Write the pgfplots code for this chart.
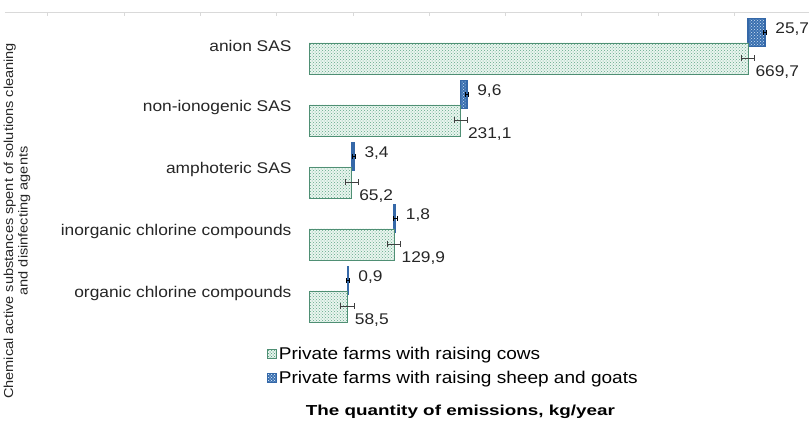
\documentclass[border=0pt]{standalone}
\usepackage{fontspec}
\setmainfont{Liberation Sans}[FakeStretch=1.12]
\newfontfamily\xlfont{Liberation Sans}[FakeStretch=1.3]
\usepackage{pgfplots}
\pgfplotsset{compat=1.18}
\usepackage{pgfplotstable}
\usetikzlibrary{patterns}

\definecolor{cowfill}{HTML}{EAF5EF}
\definecolor{cowdot}{HTML}{5FA888}
\definecolor{cowedge}{HTML}{4F8F74}
\definecolor{sheepfill}{HTML}{3A70B0}
\definecolor{sheepdot}{HTML}{D2E3F5}
\definecolor{sheepedge}{HTML}{3568A8}
\definecolor{gridgray}{HTML}{D9D9D9}

\pgfplotstableread{
c v e lab
0 58.5 10 58,5
1 129.9 10 129,9
2 65.2 10 65,2
3 231.1 10 231,1
4 669.7 10 669,7
}\cows
\pgfplotstableread{
c v base e lab
0 0.9 58.5 2.5 0,9
1 1.8 129.9 2.5 1,8
2 3.4 65.2 2.5 3,4
3 9.6 231.1 2.5 9,6
4 25.7 669.7 2.5 25,7
}\sheep

\pgfplotsset{common/.style={
  at={(5pt,-12pt)}, anchor=north west,
  scale only axis, width=804pt, height=318pt,
  xmin=-463.8, xmax=762.8, ymin=-0.589, ymax=4.540,
  clip=false}}

\begin{document}
\begin{tikzpicture}
\useasboundingbox (0,0) rectangle (809pt,-421pt);
\begin{axis}[
  common,
  stack plots=x,
  axis x line*=top,
  axis y line=none,
  ytick=\empty,
  x axis line style={draw=gridgray, line width=0.8pt},
  xtick={-398.5,-282.1,-165.7,-49.3,67.1,183.5,299.9,416.3,532.7,649.1},
  xticklabels={},
  xtick style={draw=gridgray, line width=0.8pt},
  major tick length=4pt, tick align=inside,
  legend style={at={(axis description cs:0.322,-0.04)}, anchor=north west,
    draw=none, fill=none, font=\fontsize{17}{20}\selectfont, row sep=6pt,
    cells={anchor=west}},
  legend cell align=left,
]
\addplot[xbar, draw=cowedge, line width=0.8pt, fill=cowfill,
  postaction={pattern=crosshatch dots, pattern color=cowdot},
  bar width=31pt, bar shift=-13pt,
  legend image code/.code={\draw[draw=cowedge, fill=cowfill, postaction={pattern=crosshatch dots, pattern color=cowdot}] (0pt,-4.5pt) rectangle (9pt,4.5pt);}]
  table[x=v, y=c] {\cows};
\addlegendentry{Private farms with raising cows}
\addplot[xbar, draw=sheepedge, line width=1.6pt, fill=sheepfill,
  postaction={pattern=crosshatch dots, pattern color=sheepdot},
  bar width=28pt, bar shift=13pt,
  legend image code/.code={\draw[draw=sheepedge, line width=0.5pt, fill=sheepfill, postaction={pattern=crosshatch dots, pattern color=sheepdot}] (0pt,-4.5pt) rectangle (9pt,4.5pt);}]
  table[x=v, y=c] {\sheep};
\addlegendentry{Private farms with raising sheep and goats}

\node[anchor=east, font=\fontsize{15.5}{18}\selectfont, text=black!85, xshift=-14pt] at (axis cs:0,4) {anion SAS};
\node[anchor=east, font=\fontsize{15.5}{18}\selectfont, text=black!85, xshift=-14pt] at (axis cs:0,3) {non-ionogenic SAS};
\node[anchor=east, font=\fontsize{15.5}{18}\selectfont, text=black!85, xshift=-14pt] at (axis cs:0,2) {amphoteric SAS};
\node[anchor=east, font=\fontsize{15.5}{18}\selectfont, text=black!85, xshift=-14pt] at (axis cs:0,1) {inorganic chlorine compounds};
\node[anchor=east, font=\fontsize{15.5}{18}\selectfont, text=black!85, xshift=-14pt] at (axis cs:0,0) {organic chlorine compounds};

\node[font=\xlfont\bfseries\fontsize{14.5}{17}\selectfont] at (axis description cs:0.5665,-0.258) {The quantity of emissions, kg/year};
\node[rotate=90, align=center, font=\fontsize{13}{14.5}\selectfont, text=black!85] at (axis description cs:0.015,0.343) {Chemical active substances spent of solutions cleaning\\and disinfecting agents};
\end{axis}

% overlay axis: error bars and value labels at the bar ends
\begin{axis}[
  common,
  axis lines=none, xtick=\empty, ytick=\empty,
  point meta=explicit symbolic,
]
\addplot[sharp plot, draw=none, mark=none,
  nodes near coords={\pgfplotspointmeta},
  nodes near coords style={anchor=west, font=\fontsize{15.5}{18}\selectfont, xshift=4pt, yshift=-14pt, text=black!85},
  error bars/.cd, x dir=both, x explicit,
  error bar style={draw=black!75, line width=0.7pt},
  error mark options={draw=black!75, line width=0.7pt, mark size=3pt, rotate=90}]
  table[x=v, y expr=\thisrow{c}-0.2097, x error plus=e, x error minus=e, meta=lab] {\cows};
\addplot[sharp plot, draw=none, mark=none,
  nodes near coords={\pgfplotspointmeta},
  nodes near coords style={anchor=west, font=\fontsize{15.5}{18}\selectfont, xshift=7pt, yshift=3pt, text=black!85},
  error bars/.cd, x dir=both, x explicit,
  error bar style={draw=black, line width=0.8pt},
  error mark options={draw=black, line width=0.8pt, mark size=2.5pt, rotate=90}]
  table[x expr=\thisrow{base}+\thisrow{v}, y expr=\thisrow{c}+0.2097, x error plus=e, x error minus=e, meta=lab] {\sheep};
\end{axis}
\end{tikzpicture}
\end{document}
